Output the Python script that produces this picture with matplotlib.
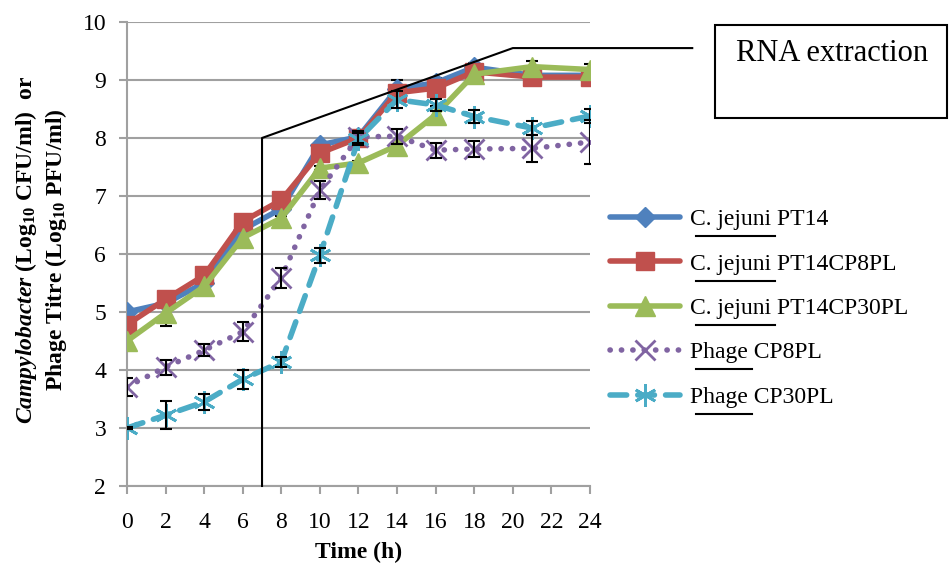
import matplotlib
matplotlib.use("Agg")
import matplotlib.pyplot as plt
from matplotlib.lines import Line2D
from matplotlib.patches import Rectangle

plt.rcParams['font.family'] = ['Liberation Serif', 'DejaVu Serif']
plt.rcParams['mathtext.fontset'] = 'custom'
plt.rcParams['mathtext.rm'] = 'Liberation Serif'
plt.rcParams['mathtext.it'] = 'Liberation Serif:italic'
plt.rcParams['mathtext.bf'] = 'Liberation Serif:bold'
plt.rcParams['mathtext.bfit'] = 'Liberation Serif:italic:bold'

time_h = [0, 2, 4, 6, 8, 10, 12, 14, 16, 18, 21, 24]
pt14 = [5.0, 5.15, 5.5, 6.42, 6.78, 7.88, 8.02, 8.85, 8.95, 9.22, 9.08, 9.08]
pt14_cp8 = [4.78, 5.22, 5.63, 6.56, 6.93, 7.74, 8.0, 8.78, 8.86, 9.14, 9.05, 9.05]
pt14_cp30 = [4.5, 4.98, 5.44, 6.28, 6.62, 7.48, 7.57, 7.87, 8.4, 9.1, 9.23, 9.18]
phage_cp8 = [3.71, 4.05, 4.34, 4.66, 5.59, 7.1, 8.02, 8.03, 7.79, 7.81, 7.82, 7.93]
phage_cp30 = [3.0, 3.22, 3.45, 3.84, 4.14, 5.98, 7.98, 8.66, 8.57, 8.37, 8.17, 8.38]

err_pt14 = [0.05, 0.03, 0.03, 0.03, 0.03, 0.05, 0.03, 0.15, 0.08, 0.08, 0.03, 0.03]
err_cp8 = [0.03, 0.03, 0.03, 0.03, 0.03, 0.03, 0.03, 0.05, 0.05, 0.03, 0.03, 0.03]
err_cp30 = [0.03, 0.22, 0.03, 0.03, 0.03, 0.03, 0.03, 0.05, 0.15, 0.03, 0.1, 0.1]
err_ph8 = [0.15, 0.13, 0.1, 0.16, 0.17, 0.15, 0.1, 0.13, 0.13, 0.13, 0.23, 0.38]
err_ph30 = [0.02, 0.24, 0.14, 0.16, 0.08, 0.13, 0.1, 0.15, 0.1, 0.12, 0.12, 0.12]

labels = ["C. jejuni PT14", "C. jejuni PT14CP8PL", "C. jejuni PT14CP30PL",
          "Phage CP8PL", "Phage CP30PL"]
prefixes = ["C. jejuni", "C. jejuni", "C. jejuni", "Phage", "Phage"]

fig = plt.figure(figsize=(9.49, 5.68), dpi=100)
ax = fig.add_axes([0.1338, 0.1444, 0.4879, 0.8169])

series = [
    (pt14, err_pt14, '#4F81BD', 'D', 10, '-', 4),
    (pt14_cp8, err_cp8, '#C0504D', 's', 13, '-', 4),
    (pt14_cp30, err_cp30, '#9BBB59', '^', 14, '-', 4),
    (phage_cp8, err_ph8, '#8064A2', 'x', 14, (0, (0.05, 2.0)), 4),
    (phage_cp30, err_ph30, '#4BACC6', (6, 2, 0), 16, (0, (3, 2)), 4),
]
for (ys, es, c, m, ms, ls, lw), lab in zip(series, labels):
    ax.plot(time_h, ys, color=c, marker=m, markersize=ms, linestyle=ls, lw=lw,
            mew=2 if m == 'x' or isinstance(m, tuple) else 1, mec=c,
            dash_capstyle='round', solid_capstyle='round', label=lab, zorder=3)
for i, (ys, es, c, m, ms, ls, lw) in enumerate(series):
    # bacterial error bars sit behind the markers, phage ones on top
    z = 2.5 if i < 3 else 4
    ax.errorbar(time_h, ys, yerr=es, fmt='none', ecolor='black', elinewidth=1.5,
                capsize=4, capthick=1.5, zorder=z)

ax.set_xlim(0, 24)
ax.set_ylim(2, 10)
ax.set_xticks(range(0, 25, 2))
ax.set_yticks(range(2, 11))
ax.yaxis.grid(True, color='#A0A0A0', lw=1.5)
ax.set_axisbelow(True)
for s in ['top', 'right']:
    ax.spines[s].set_visible(False)
for s in ['left', 'bottom']:
    ax.spines[s].set_color('#A0A0A0')
    ax.spines[s].set_linewidth(1.5)
ax.tick_params(axis='both', colors='#A0A0A0', width=1.5, length=6,
               labelsize=17, labelcolor='black')
ax.tick_params(axis='x', pad=13)
ax.tick_params(axis='y', pad=9)

ax.set_xlabel("Time (h)", fontsize=17, fontweight='bold', labelpad=6)
fig.text(0.027, 0.56, r"$\mathbfit{Campylobacter}$ (Log$_{\mathbf{10}}$ CFU/ml)  or",
         rotation=90, ha='center', va='center', fontsize=17, fontweight='bold')
fig.text(0.059, 0.56, r"Phage Titre (Log$_{\mathbf{10}}$ PFU/ml)",
         rotation=90, ha='center', va='center', fontsize=17, fontweight='bold')

# RNA extraction marker lines
ax.plot([7, 7, 20, 29.3], [2, 8, 9.55, 9.55], color='black', lw=1.5,
        clip_on=False, zorder=5)
fig.add_artist(Rectangle((0.7534, 0.7923), 0.2445, 0.1637, transform=fig.transFigure,
                         fill=False, edgecolor='black', lw=1.5))
fig.text(0.776, 0.905, "RNA extraction", fontsize=22, va='center', ha='left')

leg = ax.legend(loc='upper left', bbox_to_anchor=(1.022, 0.618), frameon=False,
                fontsize=17, handlelength=3.0, handletextpad=0.4,
                labelspacing=0.97, borderaxespad=0.0)

fig.canvas.draw()
r = fig.canvas.get_renderer()
for t, p in zip(leg.get_texts(), prefixes):
    bb = t.get_window_extent(r)
    tmp = fig.text(0, 0, p, fontsize=17)
    w = tmp.get_window_extent(r).width
    tmp.remove()
    x0 = (bb.x0 + 6) / fig.bbox.width
    x1 = (bb.x0 + w + 4) / fig.bbox.width
    y = (bb.y0 - 6) / fig.bbox.height
    fig.add_artist(Line2D([x0, x1], [y, y], color='black', lw=1.5,
                          transform=fig.transFigure))

fig.savefig("out.png", dpi=100)
